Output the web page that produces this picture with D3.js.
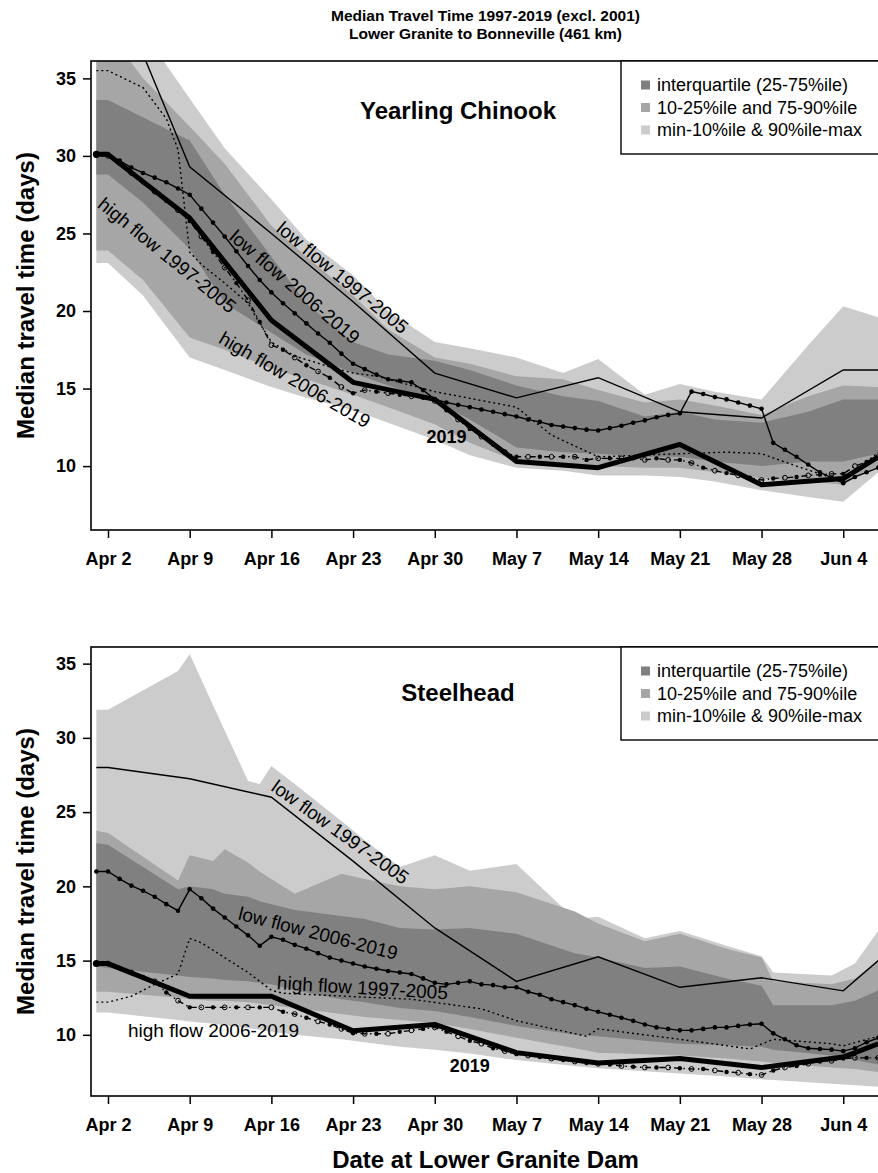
<!DOCTYPE html>
<html><head><meta charset="utf-8">
<script src="https://cdn.jsdelivr.net/npm/d3@7"></script>
<style>body{margin:0;background:#fff;} svg{display:block;font-family:"Liberation Sans",Arial,Helvetica,sans-serif;}</style>
</head><body><svg id="c" width="878" height="1173"></svg>
<script>
// ---------- DATA (day number: 1 = Apr 1, 31 = May 1, 62 = Jun 1) ----------
const tickDays = [2, 9, 16, 23, 30, 37, 44, 51, 58, 65];
const tickLabels = ["Apr 2","Apr 9","Apr 16","Apr 23","Apr 30","May 7","May 14","May 21","May 28","Jun 4"];
const yTicks = [10, 15, 20, 25, 30, 35];
const legendLabels = ["interquartile (25-75%ile)", "10-25%ile and 75-90%ile", "min-10%ile & 90%ile-max"];

// Yearling Chinook percentile bands
const cDays = [1,2,5,9,12,16,19,23,26,30,33,37,41,44,48,51,54,58,62,65,68];
const cMax = [40,40,38,33.7,30.5,27.2,24.6,22.3,20.0,18.0,17.6,17.0,16.0,16.9,14.6,15.3,14.8,14.3,17.8,20.3,19.6];
const cP90 = [38,38,35,31.9,29.5,25.5,23.5,21.0,18.8,17.0,16.6,15.8,15.6,14.9,14.1,14.3,13.9,13.3,14.5,15.2,15.1];
const cP75 = [33.6,33.6,32.5,31.0,27.5,23.5,20.5,18.0,17.2,16.8,16.2,15.2,14.5,14.2,13.2,13.5,13.0,12.8,13.5,14.3,14.3];
const cP25 = [28.8,28.8,27.0,24.0,20.5,18.6,17.2,16.0,15.2,14.2,13.0,11.2,10.9,10.8,10.6,10.6,10.3,10.0,10.3,10.3,10.8];
const cP10 = [23.9,23.9,22.0,18.3,17.5,16.3,15.6,14.6,13.8,12.7,11.5,10.3,10.2,10.0,9.9,9.9,9.6,9.2,9.0,8.8,10.0];
const cMin = [23.1,23.1,21.0,17.0,16.2,15.1,14.4,13.6,12.8,11.7,10.7,9.9,9.7,9.4,9.4,9.3,9.0,8.45,8.0,7.7,9.6];

// Yearling Chinook lines
const cWeekDays = [1,2,9,16,23,30,37,44,51,58,65,68];
const c2019 = [30.1,30.1,26.0,19.4,15.4,14.3,10.3,9.9,11.4,8.8,9.2,10.6];
const cLow97 = [42,42,29.3,25.0,20.6,16.0,14.4,15.7,13.5,13.1,16.2,16.2];
const cHigh97Days = [1,2,5,7,8,9,10,12,14,15,16,18,21,23,25,30,37,40,44,51,55,58,61,65,68];
const cHigh97 = [35.5,35.5,34.4,32.4,30.4,23.8,23.0,21.8,20.5,19.2,18.0,17.1,16.4,16.0,15.8,14.8,13.8,12.0,10.6,10.8,10.9,10.8,10.0,9.0,10.9];
const cLow06 = [30.1,30.1,29.7,29.25,28.9,28.6,28.3,27.9,27.5,26.6,25.7,24.8,23.85,22.9,22.0,21.2,20.5,19.85,19.2,18.55,17.95,17.25,16.6,16.25,15.9,15.6,15.5,15.4,14.9,14.3,14.1,13.95,13.8,13.65,13.5,13.35,13.2,13.0,12.85,12.65,12.55,12.45,12.35,12.3,12.45,12.6,12.8,12.95,13.15,13.3,13.4,14.8,14.65,14.45,14.3,14.1,13.9,13.7,11.5,11.05,10.6,10.1,9.6,9.25,8.9,9.3,9.6,9.9];
const cHigh06 = [30.0,30.0,29.5,28.9,28.3,27.7,27.1,26.5,25.8,24.8,23.8,22.8,21.8,20.7,19.3,17.8,17.5,17.0,16.5,16.1,15.7,15.1,14.7,14.9,14.8,14.7,14.6,14.5,14.4,14.2,13.6,13.0,12.4,11.9,11.4,10.9,10.6,10.6,10.6,10.6,10.6,10.6,10.4,10.5,10.5,10.5,10.5,10.4,10.5,10.4,10.4,10.2,9.9,9.7,9.55,9.4,9.25,9.1,9.2,9.25,9.3,9.4,9.45,9.5,9.5,10.0,10.26,10.6];

// Steelhead percentile bands
const sDays = [1,2,8,9,11,12,14,15,16,18,22,24,27,30,33,37,42,44,48,51,55,58,59,64,66,68];
const sMax = [31.9,31.9,34.5,35.65,32.2,30.5,27.1,26.9,28.1,26.9,24.4,23.1,21.3,22.1,21.05,21.5,17.8,17.95,16.5,17.0,16.0,15.3,14.2,14.0,14.8,17.0];
const sP90 = [23.75,23.6,20.4,22.1,21.7,22.5,21.6,21.0,20.5,19.5,20.85,20.5,20.0,19.8,20.0,19.6,18.3,17.5,16.3,16.8,15.8,15.2,13.6,13.4,13.8,15.0];
const sP75 = [22.9,22.8,19.8,20.0,19.8,19.5,19.3,19.0,18.8,18.4,18.0,17.8,17.2,17.1,17.2,16.8,15.5,15.2,14.5,14.6,13.8,13.3,12.0,12.0,12.3,13.0];
const sP25 = [14.6,14.5,14.0,13.9,13.8,13.7,13.6,13.5,13.4,13.0,12.4,12.2,11.8,11.6,11.2,10.6,10.0,9.9,9.6,9.4,9.3,9.2,9.0,8.6,8.3,8.0];
const sP10 = [12.9,12.9,12.5,12.4,12.3,12.3,12.2,12.1,12.0,11.8,11.4,11.2,11.0,10.8,10.4,9.8,9.1,8.8,8.7,8.6,8.4,8.2,8.1,7.8,7.7,7.5];
const sMin = [11.5,11.5,11.0,10.9,10.75,10.65,10.45,10.35,10.2,10.0,9.7,9.5,9.2,9.0,8.75,8.3,7.9,7.75,7.55,7.4,7.2,7.0,6.95,6.7,6.6,6.5];

// Steelhead lines
const sWeekDays = [1,2,9,16,23,30,37,44,51,58,65,68];
const s2019 = [14.8,14.8,12.6,12.6,10.27,10.7,8.8,8.1,8.4,7.8,8.5,9.4];
const sLow97 = [28.0,28.0,27.25,26.0,21.7,17.2,13.6,15.26,13.2,13.84,12.96,15.0];
const sHigh97Days = [1,2,4,6,8,9,10,12,14,16,17,25,28,34,37,43,44,51,57,59,64,65,68];
const sHigh97 = [12.2,12.2,12.6,13.4,14.1,16.5,16.2,15.2,14.2,13.0,12.8,12.5,12.4,11.75,10.95,9.9,10.4,9.7,9.05,9.7,9.4,9.26,9.9];
const sLow06 = [21.0,21.0,20.5,20.05,19.7,19.3,18.8,18.36,19.8,19.2,18.5,17.9,17.3,16.7,16.0,16.6,16.4,16.06,15.8,15.5,15.2,15.0,14.8,14.6,14.45,14.3,14.2,14.1,13.8,13.5,13.4,13.5,13.6,13.4,13.35,13.2,13.2,12.9,12.7,12.4,12.2,12.0,11.75,11.55,11.35,11.15,10.94,10.7,10.5,10.4,10.3,10.3,10.4,10.5,10.5,10.6,10.7,10.75,10.1,9.7,9.3,9.1,9.05,9.0,8.9,9.1,9.5,9.8];
const sHigh06 = [14.8,14.8,14.5,14.2,13.9,13.6,12.85,12.3,11.85,11.85,11.85,11.85,11.85,11.85,11.85,11.85,11.55,11.4,11.15,10.9,10.7,10.4,10.1,10.07,10.07,10.07,10.2,10.3,10.4,10.5,10.2,9.9,9.6,9.4,9.1,8.9,8.7,8.6,8.5,8.4,8.3,8.2,8.1,8.05,8.0,7.9,7.85,7.8,7.8,7.8,7.75,7.7,7.7,7.6,7.5,7.45,7.35,7.3,7.6,7.8,7.9,8.05,8.2,8.25,8.4,8.45,8.45,8.45];

// ---------- DRAWING ----------
const LIGHT = "#cccccc", MED = "#a6a6a6", DARK = "#808080";
const FONT = '"Liberation Sans", Arial, Helvetica, sans-serif';
const svg = d3.select("#c");
const X0 = 91, X1 = 880;
const x = d3.scaleLinear().domain([0.543, 68.15]).range([X0, X1]);
const daily = n => d3.range(1, n + 1);

// Title
svg.append("text").attr("x", 485.5).attr("y", 20.5).attr("text-anchor", "middle")
  .attr("font-weight", "bold").attr("font-size", 15.5).text("Median Travel Time 1997-2019 (excl. 2001)");
svg.append("text").attr("x", 485.5).attr("y", 38.5).attr("text-anchor", "middle")
  .attr("font-weight", "bold").attr("font-size", 15.5).text("Lower Granite to Bonneville (461 km)");

function panel(o) {
  const y = d3.scaleLinear().domain([5.88, 36.12]).range([o.bottom, o.top]);
  const clipId = "clip" + o.id;
  svg.append("clipPath").attr("id", clipId).append("rect")
    .attr("x", X0).attr("y", o.top).attr("width", X1 - X0).attr("height", o.bottom - o.top);
  const plot = svg.append("g").attr("clip-path", `url(#${clipId})`);

  const band = (lo, hi, color) => {
    const rows = o.bandDays.map((d, i) => ({ d, lo: lo[i], hi: hi[i] }));
    plot.append("path").datum(rows)
      .attr("d", d3.area().x(r => x(r.d)).y0(r => y(r.lo)).y1(r => y(r.hi)))
      .attr("fill", color);
  };
  band(o.min, o.max, LIGHT);
  band(o.p10, o.p90, MED);
  band(o.p25, o.p75, DARK);

  const line = d3.line().x(p => x(p.d)).y(p => y(p.v));
  const pts = (days, vals) => days.map((d, i) => ({ d, v: vals[i], i }));

  // high flow 1997-2005 : dotted
  plot.append("path").datum(pts(o.high97Days, o.high97)).attr("d", line)
    .attr("fill", "none").attr("stroke", "#000").attr("stroke-width", 1.4).attr("stroke-dasharray", "2,3");
  // low flow 1997-2005 : thin solid
  plot.append("path").datum(pts(o.weekDays, o.low97)).attr("d", line)
    .attr("fill", "none").attr("stroke", "#000").attr("stroke-width", 1.4);
  // 2019 : thick
  const p19 = pts(o.weekDays, o.y2019);
  plot.append("path").datum(p19).attr("d", line)
    .attr("fill", "none").attr("stroke", "#000").attr("stroke-width", 5).attr("stroke-linejoin", "round");
  plot.append("circle").attr("cx", x(p19[0].d)).attr("cy", y(p19[0].v)).attr("r", 3.5).attr("fill", "#000");
  // high flow 2006-2019 : dot-dash with alternating open / filled circles
  const h06 = pts(daily(o.high06.length), o.high06);
  plot.append("path").datum(h06).attr("d", line)
    .attr("fill", "none").attr("stroke", "#000").attr("stroke-width", 1.4).attr("stroke-dasharray", "1.5,3.5,6,3.5");
  plot.selectAll(null).data(h06).enter().append("circle")
    .attr("cx", p => x(p.d)).attr("cy", p => y(p.v)).attr("r", p => p.i % 2 ? 2.4 : 2.2)
    .attr("fill", p => p.i % 2 ? "none" : "#000").attr("stroke", "#000").attr("stroke-width", p => p.i % 2 ? 1 : 0);
  // low flow 2006-2019 : solid with dots
  const l06 = pts(daily(o.low06.length), o.low06);
  plot.append("path").datum(l06).attr("d", line)
    .attr("fill", "none").attr("stroke", "#000").attr("stroke-width", 1.4);
  plot.selectAll(null).data(l06).enter().append("circle")
    .attr("cx", p => x(p.d)).attr("cy", p => y(p.v)).attr("r", 2.3).attr("fill", "#000");

  // in-plot labels (positioned in data coordinates)
  o.labels.forEach(l => {
    plot.append("text")
      .attr("transform", `translate(${x(l.d)},${y(l.v)}) rotate(${l.a})`)
      .attr("text-anchor", "middle").attr("dominant-baseline", "central")
      .attr("font-size", l.bold ? 18 : 19).attr("font-weight", l.bold ? "bold" : "normal")
      .text(l.t);
  });

  // box
  svg.append("rect").attr("x", X0).attr("y", o.top).attr("width", X1 - X0 + 5).attr("height", o.bottom - o.top)
    .attr("fill", "none").attr("stroke", "#000").attr("stroke-width", 1.6);

  // axes
  const xa = svg.append("g").attr("transform", `translate(0,${o.bottom})`)
    .call(d3.axisBottom(x).tickValues(tickDays).tickFormat((d, i) => tickLabels[i]).tickSize(8).tickPadding(14));
  const ya = svg.append("g").attr("transform", `translate(${X0},0)`)
    .call(d3.axisLeft(y).tickValues(yTicks).tickSize(8).tickPadding(7));
  [xa, ya].forEach(a => {
    a.select(".domain").remove();
    a.selectAll("line").attr("stroke", "#000").attr("stroke-width", 1.5);
    a.selectAll("text").attr("font-family", FONT).attr("font-size", 18).attr("font-weight", "bold").attr("fill", "#000");
  });

  // y title
  svg.append("text").attr("transform", `translate(34,${(o.top + o.bottom) / 2}) rotate(-90)`)
    .attr("text-anchor", "middle").attr("font-size", 24).attr("font-weight", "bold").text("Median travel time (days)");

  // panel title
  svg.append("text").attr("x", 458).attr("y", o.top + o.titleDy).attr("text-anchor", "middle")
    .attr("dominant-baseline", "central").attr("font-size", 24).attr("font-weight", "bold").text(o.title);

  // legend
  const lg = svg.append("g").attr("transform", `translate(621,${o.top})`);
  lg.append("rect").attr("x", 0).attr("y", 0).attr("width", 265).attr("height", 93)
    .attr("fill", "#fff").attr("stroke", "#000").attr("stroke-width", 1.4);
  [DARK, MED, LIGHT].forEach((c, i) => {
    const cy = 24 + i * 22.5;
    lg.append("rect").attr("x", 20).attr("y", cy - 4.5).attr("width", 9).attr("height", 9).attr("fill", c);
    lg.append("text").attr("x", 36).attr("y", cy).attr("dominant-baseline", "central")
      .attr("font-size", 18).text(legendLabels[i]);
  });
}

panel({
  id: "chinook", top: 61, bottom: 530, title: "Yearling Chinook", titleDy: 49,
  bandDays: cDays, min: cMin, p10: cP10, p25: cP25, p75: cP75, p90: cP90, max: cMax,
  weekDays: cWeekDays, y2019: c2019, low97: cLow97, high97Days: cHigh97Days, high97: cHigh97,
  low06: cLow06, high06: cHigh06,
  labels: [
    { t: "high flow 1997-2005", d: 7.06, v: 23.6, a: 39 },
    { t: "low flow 2006-2019", d: 18.0, v: 21.55, a: 40.5 },
    { t: "low flow 1997-2005", d: 22.1, v: 22.15, a: 39.5 },
    { t: "high flow 2006-2019", d: 18.0, v: 15.56, a: 30.3 },
    { t: "2019", d: 31.0, v: 11.9, a: 0, bold: true }
  ]
});

panel({
  id: "steelhead", top: 647, bottom: 1096, title: "Steelhead", titleDy: 45,
  bandDays: sDays, min: sMin, p10: sP10, p25: sP25, p75: sP75, p90: sP90, max: sMax,
  weekDays: sWeekDays, y2019: s2019, low97: sLow97, high97Days: sHigh97Days, high97: sHigh97,
  low06: sLow06, high06: sHigh06,
  labels: [
    { t: "low flow 1997-2005", d: 21.9, v: 23.65, a: 35.7 },
    { t: "low flow 2006-2019", d: 20.0, v: 16.84, a: 14.4 },
    { t: "high flow 1997-2005", d: 23.8, v: 13.17, a: 3.4 },
    { t: "high flow 2006-2019", d: 11.04, v: 10.3, a: 0 },
    { t: "2019", d: 33.0, v: 7.9, a: 0, bold: true }
  ]
});

// x title
svg.append("text").attr("x", 485.5).attr("y", 1168).attr("text-anchor", "middle")
  .attr("font-size", 24).attr("font-weight", "bold").text("Date at Lower Granite Dam");
</script></body></html>
